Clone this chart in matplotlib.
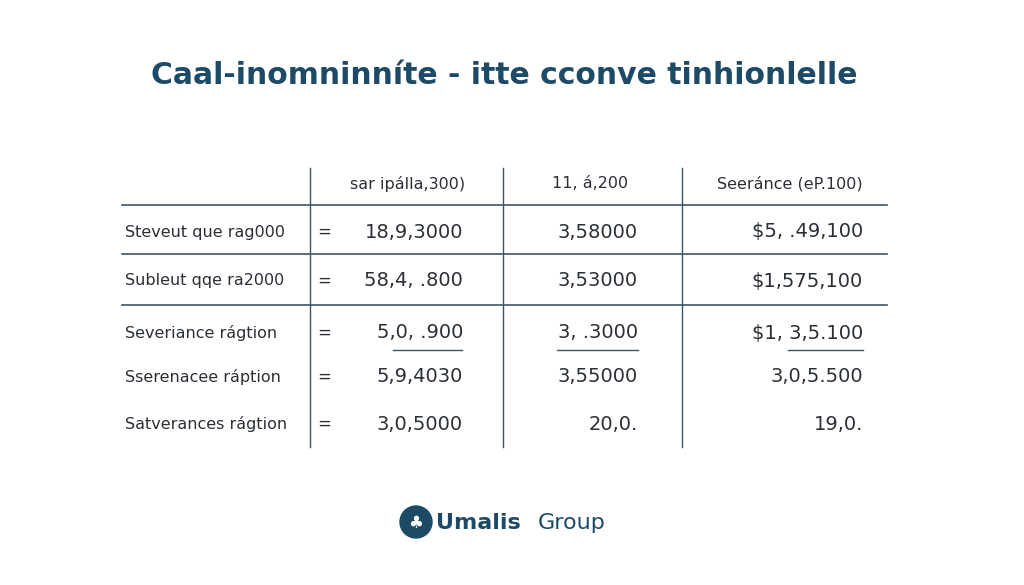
import matplotlib
matplotlib.use("Agg")
import matplotlib.pyplot as plt
from matplotlib.patches import Circle

TITLE = "Caal-inomninníte - itte cconve tinhionlelle"
HEADERS = ["sar ipálla,300)", "11, á,200", "Seeránce (eP.100)"]
ROW_LABELS = ["Steveut que rag000", "Subleut qqe ra2000", "Severiance rágtion",
              "Sserenacee ráption", "Satverances rágtion"]
COL1 = ["18,9,3000", "58,4, .800", "5,0, .900", "5,9,4030", "3,0,5000"]
COL2 = ["3,58000", "3,53000", "3, .3000", "3,55000", "20,0."]
COL3 = ["$5, .49,100", "$1,575,100", "$1, 3,5.100", "3,0,5.500", "19,0."]

W, H = 1024, 585
fig = plt.figure(figsize=(W / 100, H / 100), dpi=100)
ax = fig.add_axes([0, 0, 1, 1])
ax.set_xlim(0, W)
ax.set_ylim(H, 0)
ax.axis("off")

navy = "#1d4a66"
txt = "#2b2f36"
line = "#3d556b"

ax.text(504, 76, TITLE, ha="center", va="center", fontsize=21.5,
        fontweight="bold", color=navy, family="DejaVu Sans")

# grid lines
for y in (205, 254, 305):
    ax.plot([122, 887], [y, y], color=line, lw=1.2)
for x in (310, 503, 682):
    ax.plot([x, x], [168, 447], color=line, lw=1.0)

hx = [408, 590, 790]
for x, h in zip(hx, HEADERS):
    ax.text(x, 184, h, ha="center", va="center", fontsize=11.5, color=txt)

row_y = [232, 281, 333, 377, 424]
col_x = [463, 638, 863]
for i, y in enumerate(row_y):
    ax.text(125, y, ROW_LABELS[i], ha="left", va="center", fontsize=11.5, color=txt)
    ax.text(324, y, "=", ha="center", va="center", fontsize=12, color=txt)
    for x, col in zip(col_x, (COL1, COL2, COL3)):
        ax.text(x, y, col[i], ha="right", va="center", fontsize=14, color=txt)

# underlines on third row
for x0, x1 in ((393, 462), (557, 638), (788, 863)):
    ax.plot([x0, x1], [350, 350], color=line, lw=1.0)

# logo
ax.add_patch(Circle((416, 522), 16, color=navy))
ax.text(416, 523, "♣", ha="center", va="center", fontsize=12, color="white")
ax.text(436, 523, "Umalis", ha="left", va="center", fontsize=16,
        fontweight="bold", color=navy)
ax.text(538, 523, "Group", ha="left", va="center", fontsize=16, color=navy)

fig.savefig("out.png", dpi=100, facecolor="white")
